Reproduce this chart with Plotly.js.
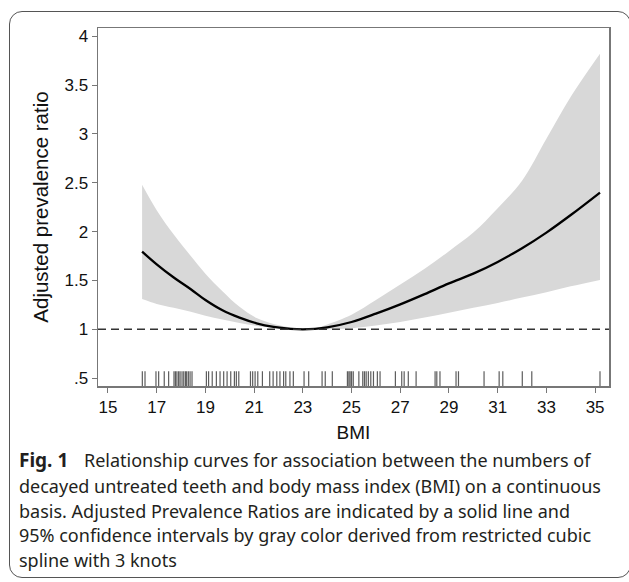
<!DOCTYPE html>
<html>
<head>
<meta charset="utf-8">
<script src="https://cdn.plot.ly/plotly-3.0.1.min.js"></script>
<style>
  html, body { margin: 0; padding: 0; background: #fff; }
  #wrap { position: relative; width: 629px; height: 582px; overflow: hidden; }
  #chart { width: 629px; height: 582px; }
  #frame { position: absolute; left: 9px; top: 11px; width: 622px; height: 567px;
           border: 1.5px solid #555; border-radius: 13px; pointer-events: none; box-sizing: border-box; }
</style>
</head>
<body>
<div id="wrap">
  <div id="chart"></div>
  <div id="frame"></div>
</div>
<script>
// ---- Data ----
const bmi   = [16.4, 17.0, 17.7, 18.4, 19.0, 19.7, 20.4, 21.1, 21.8, 22.5, 23.0, 23.5, 24.0, 25.0, 26.0, 27.0, 28.0, 29.0, 30.0, 31.0, 32.0, 33.0, 34.0, 35.2];
const pr    = [1.795, 1.665, 1.53, 1.41, 1.30, 1.195, 1.12, 1.062, 1.025, 1.005, 1.0, 1.005, 1.02, 1.075, 1.16, 1.255, 1.36, 1.47, 1.57, 1.69, 1.83, 1.99, 2.17, 2.40];
const upper = [2.48, 2.22, 1.97, 1.75, 1.57, 1.39, 1.23, 1.115, 1.055, 1.02, 1.0, 1.01, 1.05, 1.15, 1.30, 1.46, 1.62, 1.80, 1.99, 2.24, 2.52, 2.95, 3.38, 3.82];
const lower = [1.31, 1.26, 1.22, 1.18, 1.14, 1.10, 1.065, 1.035, 1.015, 1.005, 1.0, 1.0, 1.0, 1.01, 1.04, 1.075, 1.12, 1.17, 1.22, 1.27, 1.325, 1.38, 1.44, 1.505];

const rugBMI = [16.41, 16.52, 16.97, 17.08, 17.31, 17.49, 17.71, 17.77, 17.83, 17.90, 17.96, 18.04, 18.11, 18.18, 18.23, 18.30, 18.37, 18.45,
                19.04, 19.13, 19.28, 19.45, 19.60, 19.75, 19.89, 20.04, 20.19, 20.27, 20.37,
                20.85, 20.94, 21.04, 21.15, 21.34, 21.64, 21.78, 21.93, 22.06, 22.21, 22.30, 22.47, 22.61,
                23.05, 23.24, 23.79, 23.92, 24.21,
                24.83, 24.89, 24.94, 25.00, 25.07, 25.30, 25.46, 25.53, 25.60, 25.69, 25.79, 25.90, 26.06, 26.17,
                26.80, 27.06, 27.16, 27.33, 27.65, 28.43, 28.50, 28.63, 29.29, 29.39, 30.44, 31.06, 31.21, 32.01, 32.40, 35.20];
const rugLevel = 0.485;
const refLine = 1;

const xTicks = [15, 17, 19, 21, 23, 25, 27, 29, 31, 33, 35];
const yTicks = [0.5, 1, 1.5, 2, 2.5, 3, 3.5, 4];
const yTickText = ['.5', '1', '1.5', '2', '2.5', '3', '3.5', '4'];

const captionLines = [
  'Relationship curves for association between the numbers of',
  'decayed untreated teeth and body mass index (BMI) on a continuous',
  'basis. Adjusted Prevalence Ratios are indicated by a solid line and',
  '95% confidence intervals by gray color derived from restricted cubic',
  'spline with 3 knots'
];
const figLabel = 'Fig. 1';

// ---- Layout geometry (pixels) ----
const W = 629, H = 582;
const M = { l: 98, r: 20, t: 28, b: 196 };
const plotW = W - M.l - M.r, plotH = H - M.t - M.b;
const px2paperX = px => (px - M.l) / plotW;
const py2paperY = py => (H - M.b - py) / plotH;

const traces = [
  { x: bmi, y: lower, type: 'scatter', mode: 'lines', line: { width: 0, shape: 'spline' }, hoverinfo: 'skip', showlegend: false },
  { x: bmi, y: upper, type: 'scatter', mode: 'lines', fill: 'tonexty', fillcolor: '#d8d8d8',
    line: { width: 0, shape: 'spline' }, hoverinfo: 'skip', showlegend: false },
  { x: bmi, y: pr, type: 'scatter', mode: 'lines', line: { color: '#000', width: 2.3, shape: 'spline' }, showlegend: false },
  { x: rugBMI, y: rugBMI.map(() => rugLevel), type: 'scatter', mode: 'markers',
    marker: { symbol: 'line-ns', size: 12, color: 'rgba(0,0,0,0.7)', line: { color: 'rgba(30,30,30,0.72)', width: 1.2 } },
    showlegend: false }
];

const tickFont = { family: 'Liberation Sans, Arial, sans-serif', size: 17, color: '#111' };
const titleFont = { family: 'Liberation Sans, Arial, sans-serif', size: 19, color: '#111' };
const capFont = { family: 'Noto Sans, Open Sans, sans-serif', size: 18, color: '#231f20' };

const annotations = [];
const capY = [460, 486, 511, 535, 560];
annotations.push({ xref: 'paper', yref: 'paper', x: px2paperX(17), y: py2paperY(capY[0]), xanchor: 'left', yanchor: 'middle',
  text: '<b>' + figLabel + '</b>', showarrow: false, font: Object.assign({}, capFont, { size: 19 }) });
captionLines.forEach((t, i) => {
  annotations.push({ xref: 'paper', yref: 'paper', x: px2paperX(i === 0 ? 82 : 17), y: py2paperY(capY[i]),
    xanchor: 'left', yanchor: 'middle', text: t, showarrow: false, font: capFont });
});

const layout = {
  width: W, height: H,
  margin: M,
  paper_bgcolor: '#fff', plot_bgcolor: '#fff',
  showlegend: false,
  xaxis: {
    range: [14.59, 35.57], tickvals: xTicks, ticktext: xTicks.map(String),
    ticks: 'outside', ticklen: 5, tickwidth: 1, tickcolor: '#777',
    showline: true, linecolor: '#777', linewidth: 1.5, mirror: true,
    showgrid: false, zeroline: false, tickfont: tickFont,
    title: { text: 'BMI', font: titleFont, standoff: 10 }
  },
  yaxis: {
    range: [0.42, 4.084], tickvals: yTicks, ticktext: yTickText,
    ticks: 'outside', ticklen: 5, tickwidth: 1, tickcolor: '#777',
    showline: true, linecolor: '#777', linewidth: 1.5, mirror: true,
    showgrid: false, zeroline: false, tickfont: tickFont,
    title: { text: 'Adjusted prevalence ratio', font: Object.assign({}, titleFont, { size: 20.5 }), standoff: 10 }
  },
  shapes: [
    { type: 'line', xref: 'paper', yref: 'y', x0: 0, x1: 1, y0: refLine, y1: refLine,
      line: { color: '#333', width: 1.5, dash: '8px,5px' } }
  ],
  annotations: annotations
};

Plotly.newPlot('chart', traces, layout, { displayModeBar: false, staticPlot: true });
</script>
</body>
</html>
